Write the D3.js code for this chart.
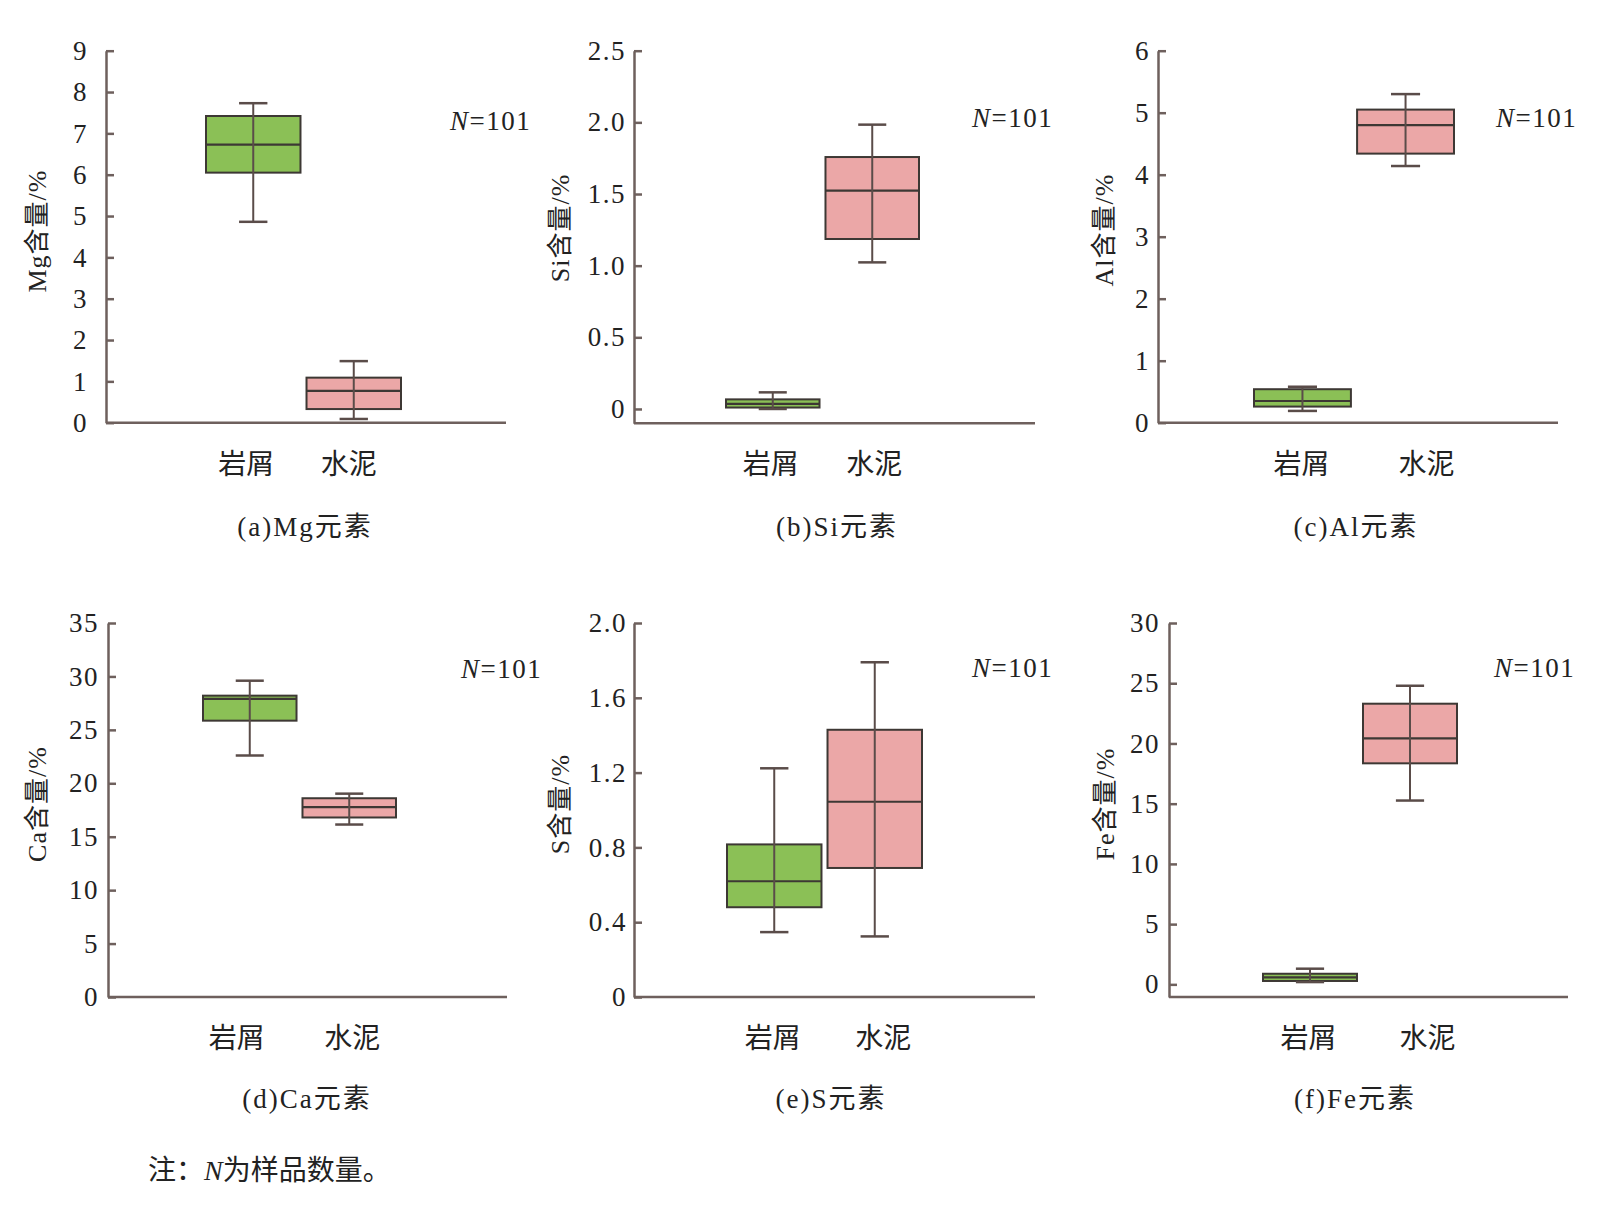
<!DOCTYPE html>
<html>
<head>
<meta charset="utf-8">
<script src="https://cdn.jsdelivr.net/npm/d3@7"></script>
<style>
  body { margin: 0; background: #fff; }
  svg { display: block; }
  text { fill: #222; }
</style>
</head>
<body>
<svg id="chart" width="1598" height="1220"></svg>
<script>
// data
const categories = ["岩屑", "水泥"];
const elements = ["Mg", "Si", "Al", "Ca", "S", "Fe"];
const panelTags = ["a", "b", "c", "d", "e", "f"];
const sampleCount = 101;

// [min, q1, median, q3, max]
const rockStats = [
  [4.86, 6.05, 6.73, 7.42, 7.73],
  [0.0, 0.01, 0.035, 0.067, 0.116],
  [0.19, 0.26, 0.35, 0.54, 0.58],
  [22.6, 25.86, 27.9, 28.2, 29.6],
  [0.347, 0.48, 0.619, 0.816, 1.223],
  [0.19, 0.28, 0.58, 0.88, 1.30]
];
const cementStats = [
  [0.09, 0.33, 0.77, 1.09, 1.49],
  [1.023, 1.186, 1.523, 1.758, 1.984],
  [4.14, 4.34, 4.80, 5.05, 5.30],
  [16.14, 16.8, 17.76, 18.6, 19.03],
  [0.324, 0.69, 1.044, 1.429, 1.79],
  [15.26, 18.35, 20.42, 23.3, 24.79]
];

const yTicks = [
  [0, 1, 2, 3, 4, 5, 6, 7, 8, 9],
  [0, 0.5, 1.0, 1.5, 2.0, 2.5],
  [0, 1, 2, 3, 4, 5, 6],
  [0, 5, 10, 15, 20, 25, 30, 35],
  [0, 0.4, 0.8, 1.2, 1.6, 2.0],
  [0, 5, 10, 15, 20, 25, 30]
];
const yDomains = [[0, 9], [-0.1, 2.5], [0, 6], [0, 35], [0, 2], [-1.05, 30]];
const tickDecimals = [0, 1, 0, 0, 1, 0];

// layout of each panel (pixels)
const layout = [
  {ax: 106,  end: 506,  bot: 422.7, top: 50.7, box: [206, 401],   pad: 18, ldx: [-7, -5],   ly: 464,  cx: 305,  cy: 527,  nx: 450,  ny: 121, yx: 37,   yy: 231},
  {ax: 634,  end: 1035, bot: 423.3, top: 50.7, box: [726, 919],   pad: 8,  ldx: [-2, 2],    ly: 464,  cx: 837,  cy: 527,  nx: 972,  ny: 118, yx: 560,  yy: 228},
  {ax: 1158, end: 1558, bot: 422.7, top: 50.7, box: [1254, 1454], pad: 8,  ldx: [-1, 21],   ly: 464,  cx: 1356, cy: 527,  nx: 1496, ny: 118, yx: 1104, yy: 230},
  {ax: 108,  end: 507,  bot: 997,   top: 623,  box: [203, 396],   pad: 9,  ldx: [-13, 3],   ly: 1038, cx: 307,  cy: 1099, nx: 461,  ny: 669, yx: 37,   yy: 804},
  {ax: 634,  end: 1035, bot: 997,   top: 623,  box: [727, 922],   pad: 7,  ldx: [-1.5, 8.5], ly: 1038, cx: 831, cy: 1099, nx: 972,  ny: 668, yx: 560,  yy: 804},
  {ax: 1169, end: 1568, bot: 997,   top: 623,  box: [1263, 1457], pad: 9,  ldx: [-1.5, 17.5], ly: 1038, cx: 1355, cy: 1099, nx: 1494, ny: 668, yx: 1105, yy: 804}
];

const fills = {"岩屑": "#8bc056", "水泥": "#eba7a7"};
const axisColor = "#6e605d";
const boxStroke = "#3d3834";
const whiskerColor = "#5a4c49";
const numFont = "'Liberation Serif', 'Noto Sans CJK SC', serif";
const cjkFont = "'Noto Sans CJK SC', sans-serif";

const svg = d3.select("#chart");

elements.forEach((el, i) => {
  let L = layout[i];
  let g = svg.append("g").attr("class", "panel");

  let y = d3.scaleLinear().domain(yDomains[i]).range([L.bot, L.top]);
  let x = d3.scaleBand().domain(categories).range(L.box).paddingInner(0.06);

  let fmt = v => v === 0 ? "0" : d3.format("." + tickDecimals[i] + "f")(v);

  // y axis, ticks pointing inward
  let yAxis = g.append("g")
    .attr("transform", `translate(${L.ax},0)`)
    .call(d3.axisLeft(y).tickValues(yTicks[i]).tickFormat(fmt)
      .tickSizeInner(-8).tickSizeOuter(0).tickPadding(L.pad));
  yAxis.select(".domain").attr("stroke", axisColor).attr("stroke-width", 2.5);
  yAxis.selectAll(".tick line").attr("stroke", axisColor).attr("stroke-width", 2.5);
  yAxis.selectAll(".tick text")
    .attr("font-family", numFont).attr("font-size", 27)
    .attr("fill", "#222").style("letter-spacing", "1.5px");

  // x axis line
  g.append("line")
    .attr("x1", L.ax).attr("x2", L.end)
    .attr("y1", y(yDomains[i][0])).attr("y2", y(yDomains[i][0]))
    .attr("stroke", axisColor).attr("stroke-width", 2.5);

  let stats = [rockStats[i], cementStats[i]];
  let boxes = g.selectAll(".box")
    .data(categories.map((c, k) => ({cat: c, s: stats[k]})))
    .enter().append("g").attr("class", "box");

  boxes.append("rect")
    .attr("x", d => x(d.cat))
    .attr("width", x.bandwidth())
    .attr("y", d => y(d.s[3]))
    .attr("height", d => y(d.s[1]) - y(d.s[3]))
    .attr("fill", d => fills[d.cat])
    .attr("stroke", boxStroke).attr("stroke-width", 2);

  boxes.append("line")
    .attr("x1", d => x(d.cat)).attr("x2", d => x(d.cat) + x.bandwidth())
    .attr("y1", d => y(d.s[2])).attr("y2", d => y(d.s[2]))
    .attr("stroke", boxStroke).attr("stroke-width", 2.2);

  let cx = d => x(d.cat) + x.bandwidth() / 2;
  let cap = x.bandwidth() * 0.15;

  boxes.append("line")
    .attr("x1", cx).attr("x2", cx)
    .attr("y1", d => y(d.s[0])).attr("y2", d => y(d.s[4]))
    .attr("stroke", whiskerColor).attr("stroke-width", 2);

  [0, 4].forEach(j => {
    boxes.append("line")
      .attr("x1", d => cx(d) - cap).attr("x2", d => cx(d) + cap)
      .attr("y1", d => y(d.s[j])).attr("y2", d => y(d.s[j]))
      .attr("stroke", whiskerColor).attr("stroke-width", 2.5);
  });

  // category labels
  g.selectAll(".cat")
    .data(categories)
    .enter().append("text")
    .attr("class", "cat")
    .attr("x", (c, k) => x(c) + x.bandwidth() / 2 + L.ldx[k])
    .attr("y", L.ly).attr("dy", "0.35em")
    .attr("text-anchor", "middle")
    .attr("font-family", cjkFont).attr("font-size", 28)
    .text(c => c);

  // caption
  g.append("text")
    .attr("x", L.cx).attr("y", L.cy).attr("dy", "0.35em")
    .attr("text-anchor", "middle")
    .attr("font-family", numFont).attr("font-size", 27)
    .style("letter-spacing", "2px")
    .text(`(${panelTags[i]})${el}元素`);

  // sample count
  let n = g.append("text")
    .attr("x", L.nx).attr("y", L.ny).attr("dy", "0.35em")
    .attr("font-family", numFont).attr("font-size", 27)
    .style("letter-spacing", "1.5px");
  n.append("tspan").attr("font-style", "italic").text("N");
  n.append("tspan").text("=" + sampleCount);

  // y label
  g.append("text")
    .attr("transform", `translate(${L.yx},${L.yy}) rotate(-90)`)
    .attr("dy", "0.35em")
    .attr("text-anchor", "middle")
    .attr("font-family", numFont).attr("font-size", 26)
    .style("letter-spacing", "1px")
    .text(`${el}含量/%`);
});

// note
let note = svg.append("text")
  .attr("x", 148).attr("y", 1170).attr("dy", "0.35em")
  .attr("font-family", cjkFont).attr("font-size", 28);
note.append("tspan").text("注：");
note.append("tspan").attr("font-family", numFont).attr("font-style", "italic").text("N");
note.append("tspan").text("为样品数量。");
</script>
</body>
</html>
